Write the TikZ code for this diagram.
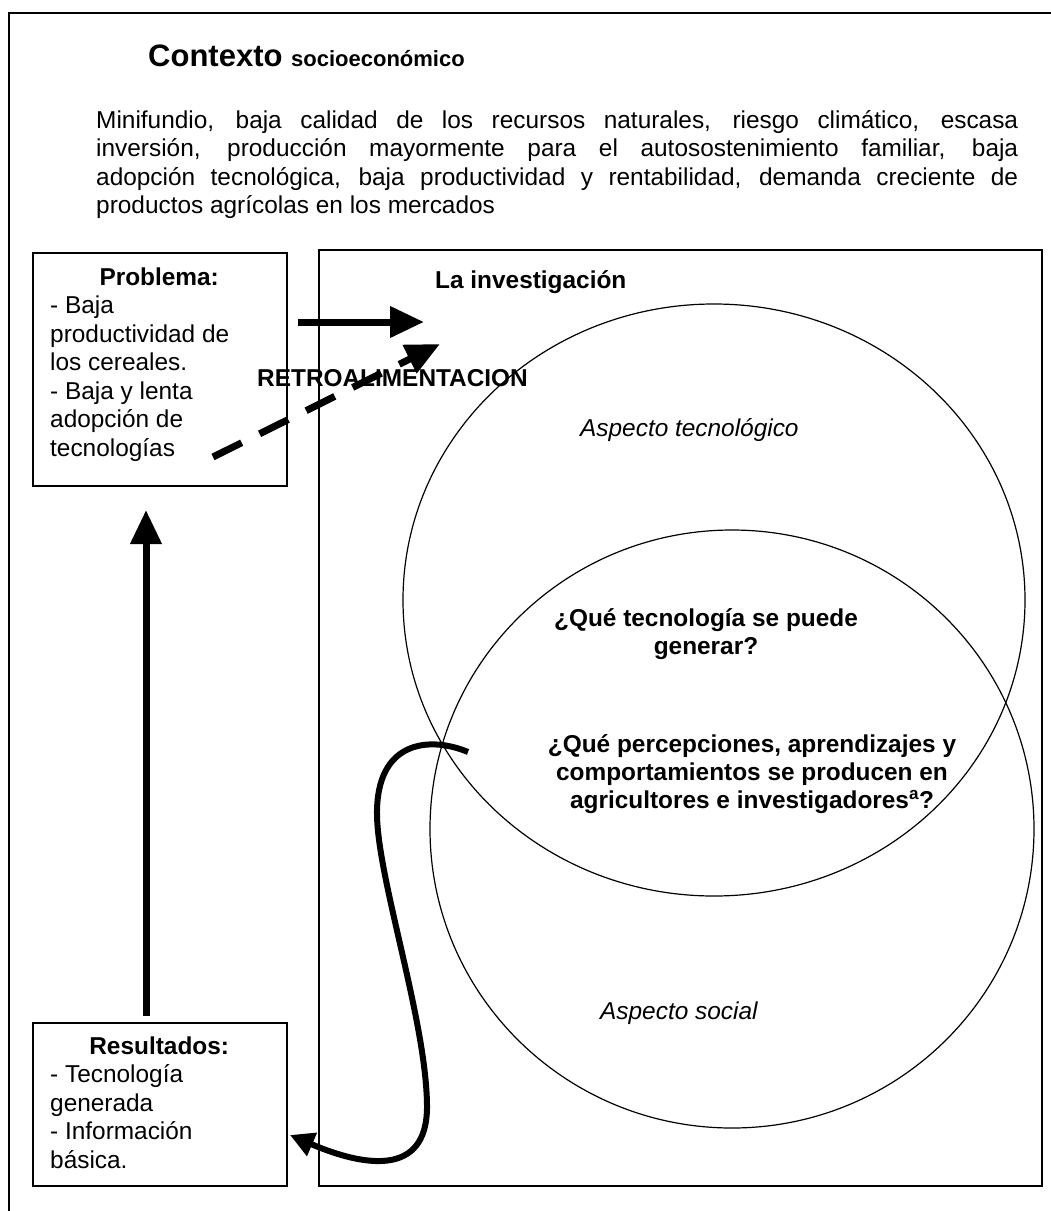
\documentclass[tikz,border=0pt]{standalone}
\usepackage{fontspec}
\setmainfont{Liberation Sans}
\usetikzlibrary{arrows.meta,shapes.geometric}
\begin{document}
\begin{tikzpicture}[x=1pt,y=-1pt,
  frame/.style={draw, line width=1.5pt},
  ring/.style={draw, ellipse, line width=1.2pt, inner sep=0pt},
  body/.style={inner sep=0pt, font=\fontsize{24.4}{28.5}\selectfont},
  bodybf/.style={inner sep=0pt, font=\fontsize{24.4}{28}\selectfont\bfseries},
  bodyit/.style={inner sep=0pt, font=\fontsize{24.4}{28}\selectfont\itshape},
  bigarrow/.style={line width=7pt, -{Triangle[length=34pt,width=30pt]}},
  dasharrow/.style={line width=7pt, dash pattern=on 32pt off 20pt, -{Triangle[length=34pt,width=30pt]}},
  curvearrow/.style={line width=6pt, -{Triangle[length=24pt,width=24pt]}},
]
\useasboundingbox (0,0) rectangle (1051,1211);

% outer frame (only the top and left edges lie inside the page)
\draw[line width=1.5pt] (1060,13) -- (9,13) -- (9,1220);

% heading and description of the context
\node[inner sep=0pt, anchor=base west] (ctx) at (148,66)
  {\bfseries\fontsize{31}{35}\selectfont Contexto \fontsize{22}{26}\selectfont socioeconómico};
\node[body, anchor=base west] (desc) at (96,128) {\parbox[t]{922pt}{\hyphenpenalty=10000
  Minifundio, baja calidad de los recursos naturales, riesgo climático, escasa\linebreak
  inversión, producción mayormente para el autosostenimiento familiar, baja\linebreak
  adopción tecnológica, baja productividad y rentabilidad, demanda creciente de\linebreak
  productos agrícolas en los mercados}};

% boxes
\node[frame, anchor=north west, minimum width=254pt, minimum height=233pt, inner sep=0pt] (prob) at (32,252) {};
\node[frame, anchor=north west, minimum width=723pt, minimum height=936pt, inner sep=0pt] (inv) at (318,249) {};
\node[frame, anchor=north west, minimum width=254pt, minimum height=163pt, inner sep=0pt] (res) at (32,1022) {};

\node[body, anchor=base west] (probtxt) at (50,285) {\parbox[t]{218pt}{\centering\textbf{Problema:}\par
  \raggedright - Baja\\ productividad de\\ los cereales.\\ - Baja y lenta\\ adopción de\\ tecnologías}};
\node[body, anchor=base west] (restxt) at (50,1054) {\parbox[t]{218pt}{\centering\textbf{Resultados:}\par
  \raggedright - Tecnología\\ generada\\ - Información\\ básica.}};

% the two aspects of the research
\node[ring, minimum width=622pt, minimum height=592pt] (tec) at (714,600) {};
\node[ring, minimum width=604pt, minimum height=598pt] (soc) at (732,829) {};

\node[bodybf, anchor=base west] (invtitle) at (435,288) {La investigación};
\node[bodyit, anchor=west] (asptec) at (580,430) {Aspecto tecnológico};
\node[bodyit, anchor=west] (aspsoc) at (600,1013) {Aspecto social};
\node[bodybf, align=center] (q1) at (706,634) {¿Qué tecnología se puede\\generar?};
\node[bodybf, align=center] (q2) at (752,774) {¿Qué percepciones, aprendizajes y\\comportamientos se producen en\\agricultores e investigadores\textsuperscript{a}?};

% connectors
\coordinate (inS) at (298,322);
\coordinate (inE) at (424,322);
\coordinate (fbS) at (213,457);
\coordinate (fbE) at (440,344);
\coordinate (upS) at (146,1016);
\coordinate (upE) at (146,510);
\coordinate (outS) at (468,752);
\coordinate (outE) at (290,1135);

\draw[bigarrow] (inS) -- (inE);
\draw[dasharrow] (fbS) -- (fbE);
\node[bodybf, anchor=base west] (retro) at (257,386) {RETROALIMENTACION};
\draw[bigarrow] (upS) -- (upE);
\draw[curvearrow] (outS) .. controls (430,736) and (376,740) .. (377,815)
  .. controls (378,880) and (426,1020) .. (427,1105)
  .. controls (428,1180) and (360,1165) .. (outE);
\end{tikzpicture}
\end{document}
